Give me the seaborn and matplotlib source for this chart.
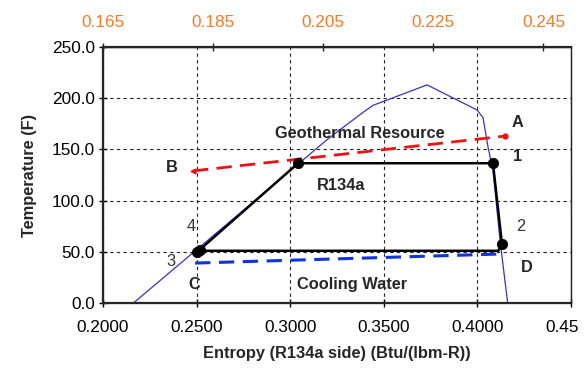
import numpy as np
import pandas as pd
import matplotlib
matplotlib.use("Agg")
import matplotlib.pyplot as plt
import matplotlib.transforms as mtrans
import seaborn as sns

# data
dome_s = [0.2130, 0.3200, 0.3384, 0.3442, 0.3731, 0.3998, 0.4030, 0.4057, 0.4083, 0.4121, 0.4165]
dome_T = [-5.0, 160.0, 185.5, 193.0, 213.0, 188.5, 181.0, 152.0, 130.0, 61.0, -5.0]

geo_s = [0.2481, 0.4147]      # B -> A
geo_T = [129.0, 163.0]
cool_s = [0.2492, 0.4147]     # C -> D
cool_T = [39.0, 48.0]

cycle_s = [0.2510, 0.3042, 0.4083, 0.4131, 0.4112, 0.2510]
cycle_T = [51.0, 136.5, 136.5, 58.0, 51.0, 51.0]
state_s = [0.2503, 0.2518, 0.3042, 0.4083, 0.4131]
state_T = [50.0, 52.0, 136.5, 136.5, 58.0]

bottom_ticks = [0.20, 0.25, 0.30, 0.35, 0.40, 0.45]
bottom_labels = ['0.2000', '0.2500', '0.3000', '0.3500', '0.4000', '0.45']
left_ticks = [0, 50, 100, 150, 200, 250]
top_ticks = [0.165, 0.185, 0.205, 0.225, 0.245]

sns.set_style("ticks")
plt.rcParams['font.family'] = ['Liberation Sans', 'DejaVu Sans']

fig = plt.figure(figsize=(5.86, 3.76), dpi=100)
ax = fig.add_axes([0.1758, 0.1941, 0.7986, 0.6809])

# saturation dome
dome = pd.DataFrame({'s': dome_s, 'T': dome_T})
sns.lineplot(data=dome, x='s', y='T', sort=False, estimator=None, color='#3535c0', lw=0.9, ax=ax)

# geothermal resource (red) and cooling water (blue)
sns.lineplot(x=geo_s, y=geo_T, sort=False, estimator=None, color='#ee1111', lw=2, ax=ax)
ax.lines[-1].set_dashes([5.5, 3])
ax.plot(geo_s[1], geo_T[1], 'o', color='#ee1111', ms=3.5)
ax.plot(geo_s[0], geo_T[0], '<', color='#ee1111', ms=3.5)

sns.lineplot(x=cool_s, y=cool_T, sort=False, estimator=None, color='#1133dd', lw=2.2, ax=ax)
ax.lines[-1].set_dashes([5, 2.8])

# R134a cycle
sns.lineplot(x=cycle_s, y=cycle_T, sort=False, estimator=None, color='black', lw=1.8, ax=ax)
sns.scatterplot(x=state_s, y=state_T, color='black', s=55, ax=ax, zorder=5, edgecolor='black')

ax.set_xlim(0.2, 0.45)
ax.set_ylim(0, 250)
ax.set_xticks(bottom_ticks)
ax.set_xticklabels(bottom_labels)
ax.set_yticks(left_ticks)
ax.set_yticklabels([f'{v:.1f}' for v in left_ticks])
ax.grid(True, color='#222222', ls=(0, (3, 3)), lw=0.8)
ax.tick_params(direction='inout', length=6, width=1, labelsize=12.4, colors='black')
ax.tick_params(axis='x', pad=9.5)
ax.tick_params(axis='y', pad=3)
for sp in ['left', 'bottom']:
    ax.spines[sp].set_linewidth(1.6)
for sp in ['top', 'right']:
    ax.spines[sp].set_linewidth(1.0)

# last bottom label sits a bit left of its tick in the reference
last = ax.get_xticklabels()[-1]
last.set_transform(last.get_transform() + mtrans.ScaledTranslation(-0.085, 0, fig.dpi_scale_trans))

ax.set_xlabel('Entropy (R134a side) (Btu/(lbm-R))', fontsize=11.8, fontweight='bold', labelpad=8)
ax.set_ylabel('Temperature (F)', fontsize=11.8, fontweight='bold', labelpad=10.5)

ax2 = ax.twiny()
ax2.set_xlim(0.165, 0.25)
ax2.set_xticks(top_ticks)
ax2.set_xticklabels([f'{v:.3f}' for v in top_ticks])
ax2.tick_params(direction='inout', length=6, width=1, labelsize=12.4, labelcolor='#f47b2a', pad=9)
ax2.spines['top'].set_linewidth(1.6)

bold = dict(fontsize=11.8, fontweight='bold', ha='center', va='center')
ax.text(0.3374, 166, 'Geothermal Resource', **bold)
ax.text(0.327, 115, 'R134a', **bold)
ax.text(0.333, 18.5, 'Cooling Water', **bold)
ax.text(0.4217, 176, 'A', **bold)
ax.text(0.2369, 132, 'B', **bold)
ax.text(0.249, 18.5, 'C', **bold)
ax.text(0.4265, 35, 'D', **bold)
ax.text(0.4217, 143, '1', **bold)
plain = dict(fontsize=11.8, ha='center', va='center', color='#333333')
ax.text(0.4233, 75, '2', **plain)
ax.text(0.2360, 41, '3', **plain)
ax.text(0.2472, 75, '4', **plain)

plt.savefig('out.png', dpi=100)
